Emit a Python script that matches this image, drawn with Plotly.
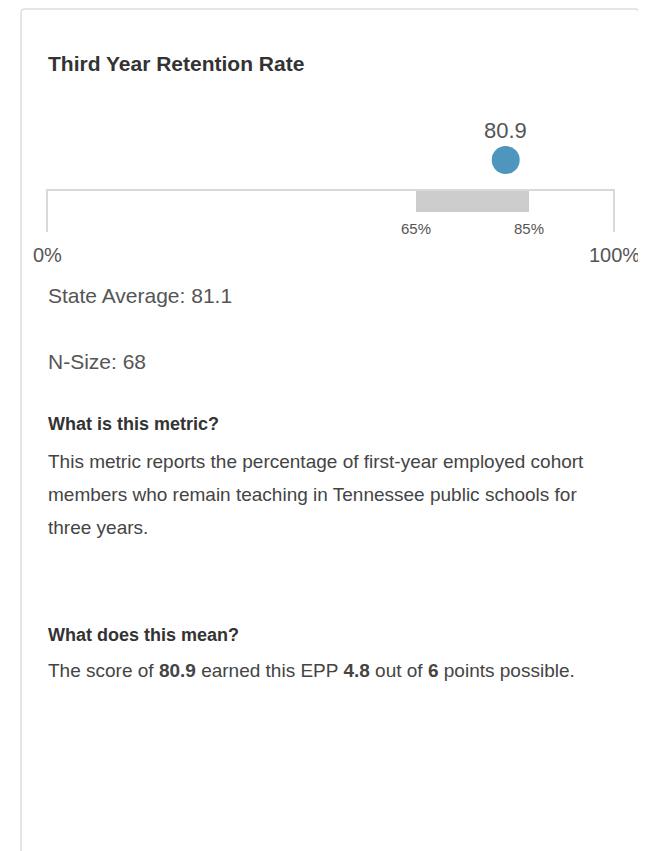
import plotly.graph_objects as go

# ---- data ----
title = "Third Year Retention Rate"
score = [80.9]
range_low = [65]
range_high = [85]
axis_min, axis_max = 0, 100
axis_labels = ["0%", "100%"]
range_labels = ["65%", "85%"]
state_average = 81.1
n_size = 68
points_earned = 4.8
points_possible = 6
metric_lines = [
    "This metric reports the percentage of first-year employed cohort",
    "members who remain teaching in Tennessee public schools for",
    "three years.",
]

# ---- layout constants (page pixels; page body has 8px margin) ----
OFF = 8
W, H = 646 - OFF, 851 - OFF
PX0, PX100 = 47, 614
scale = (PX100 - PX0) / (axis_max - axis_min)
def v(px):
    return axis_min + (px - PX0) / scale
def Y(py):
    return py - OFF

FONT = "Liberation Sans, Arial, sans-serif"
DARK = "#333333"
BODY = "#444444"
GREY = "#555555"
LINE = "#d9d9d9"

fig = go.Figure()

# range bar
fig.add_trace(go.Bar(
    x=[range_high[0] - range_low[0]], base=range_low, y=[Y(201)], orientation="h",
    width=22, marker=dict(color="#cccccc", line=dict(width=0)),
    hoverinfo="skip", showlegend=False))

# axis bracket
fig.add_trace(go.Scatter(
    x=[axis_min, axis_min, axis_max, axis_max], y=[Y(232), Y(190), Y(190), Y(232)],
    mode="lines", line=dict(color=LINE, width=2), hoverinfo="skip", showlegend=False))

# score dot
fig.add_trace(go.Scatter(
    x=score, y=[Y(160)], mode="markers",
    marker=dict(size=28, color="#4f96be"), hoverinfo="skip", showlegend=False))

# card border
cl, cr, ct, cb, rr = v(21), v(639), Y(9), Y(880), 4
rx = rr / scale
fig.add_shape(type="path",
    path=(f"M {cl},{cb} L {cl},{ct+rr} Q {cl},{ct} {cl+rx},{ct} "
          f"L {cr-rx},{ct} Q {cr},{ct} {cr},{ct+rr} L {cr},{cb}"),
    line=dict(color="#dddddd", width=1.5), layer="below")

ann = []
def text(x, y, s, size, color=BODY, anchor="left", bold=False):
    ann.append(dict(x=x, y=Y(y), xref="x", yref="y", text=(f"<b>{s}</b>" if bold else s),
                    showarrow=False, xanchor=anchor, yanchor="middle",
                    font=dict(family=FONT, size=size, color=color)))

LX = v(46)
text(LX, 63, title, 21, DARK, bold=True)
text(score[0], 130, f"{score[0]}", 22, GREY, "center")
text(range_low[0], 228, range_labels[0], 15, GREY, "center")
text(range_high[0], 228, range_labels[1], 15, GREY, "center")
text(axis_min, 255, axis_labels[0], 20, GREY, "center")
text(axis_max, 255, axis_labels[1], 20, GREY, "center")
text(LX, 295, f"State Average: {state_average}", 21, GREY)
text(LX, 361, f"N-Size: {n_size}", 21, GREY)
text(LX, 424, "What is this metric?", 18, DARK, bold=True)
for i, line in enumerate(metric_lines):
    text(LX, 461 + 33 * i, line, 19, BODY)
text(LX, 635, "What does this mean?", 18, DARK, bold=True)
text(LX, 670, f"The score of <b>{score[0]}</b> earned this EPP <b>{points_earned}</b> out of "
              f"<b>{points_possible}</b> points possible.", 19, BODY)

fig.update_layout(
    width=W, height=H, margin=dict(l=0, r=0, t=0, b=0),
    paper_bgcolor="white", plot_bgcolor="white",
    xaxis=dict(range=[v(OFF), v(646)], visible=False, fixedrange=True),
    yaxis=dict(range=[H, 0], visible=False, fixedrange=True),
    annotations=ann, bargap=0,
)
fig.write_html("out.html")
